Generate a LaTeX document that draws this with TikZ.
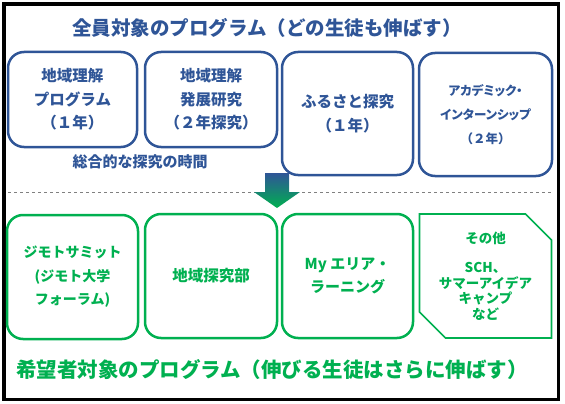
\documentclass[tikz,border=0pt]{standalone}
\usepackage{fontspec}
\setmainfont{Noto Sans CJK JP}
\newfontfamily\jpprop{Noto Sans CJK JP}[RawFeature=+palt]
\usetikzlibrary{shapes.misc}
\definecolor{pblue}{RGB}{47,85,151}
\definecolor{pgreen}{RGB}{0,176,80}
\begin{document}
\begin{tikzpicture}[x=1pt,y=-1pt,
  bluebox/.style={draw=pblue,line width=2.5pt,rounded corners=16pt,align=center,
    text=pblue,inner sep=0pt,outer sep=0pt,font=\bfseries\fontsize{15.5}{23.5}\selectfont},
  greenbox/.style={draw=pgreen,line width=2.5pt,rounded corners=16pt,align=center,
    text=pgreen,inner sep=0pt,outer sep=0pt,font=\bfseries\fontsize{14}{23.5}\selectfont},
  snipbox/.style={chamfered rectangle,chamfered rectangle corners={north east,south west},
    chamfered rectangle xsep=13pt,chamfered rectangle ysep=13pt,draw=pgreen,line width=1.6pt,
    align=center,text=pgreen,inner sep=0pt,outer sep=0pt,font=\bfseries\fontsize{13.5}{15.5}\selectfont},
  titletext/.style={font=\bfseries\fontsize{19.5}{24}\selectfont,inner sep=0pt}]
\useasboundingbox (0,0) rectangle (565,404);
\draw[line width=3.5pt] (4,4) rectangle (558.5,399.5);
% titles
\node[titletext,text=pblue] (t1) at (267,28) {全員対象のプログラム（どの生徒も伸ばす）};
\node[titletext,text=pgreen,font=\bfseries\fontsize{20.5}{24}\selectfont] (t2) at (272,370) {希望者対象のプログラム（伸びる生徒はさらに伸ばす）};
% top boxes
\node[bluebox,minimum width=129pt,minimum height=95pt] (a1) at (72.5,99.5) {地域理解\\プログラム\\（１年）};
\node[bluebox,minimum width=132pt,minimum height=95pt] (a2) at (211,99.5) {地域理解\\発展研究\\（２年探究）};
\node[bluebox,minimum width=131pt,minimum height=123pt] (a3) at (347.5,113.5) {ふるさと探究\\（１年）};
\node[bluebox,minimum width=133pt,minimum height=123pt,font=\bfseries\fontsize{12.5}{24}\selectfont] (a4) at (485.5,114.5) {{\jpprop アカデミック・}\\{\jpprop インターンシップ}\\（２年）};
\node[text=pblue,font=\bfseries\fontsize{15}{18}\selectfont,inner sep=0pt] (sg) at (140,162) {総合的な探究の時間};
% separator
\coordinate (dl) at (8,192);
\coordinate (dr) at (552,192);
\draw[gray,dashed,line width=0.8pt] (dl) -- (dr);
% arrow
\shade[top color=pblue,bottom color=pgreen] (265,173) -- (289,173) -- (289,192) -- (300,192) -- (277,208) -- (254,192) -- (265,192) -- cycle;
% bottom boxes
\node[greenbox,minimum width=131pt,minimum height=124pt] (b1) at (72.5,277) {ジモトサミット\\(ジモト大学\\フォーラム)};
\node[greenbox,minimum width=132pt,minimum height=124pt,font=\bfseries\fontsize{15.5}{23.5}\selectfont] (b2) at (211,276) {地域探究部};
\node[greenbox,minimum width=131pt,minimum height=124pt,font=\bfseries\fontsize{15}{23.5}\selectfont] (b3) at (347.5,276) {My エリア・\\ラーニング};
\node[snipbox,minimum width=132pt,minimum height=124pt] (b4) at (485.5,276) {その他\\[14pt]SCH、\\サマーアイデア\\キャンプ\\など};
\end{tikzpicture}
\end{document}
